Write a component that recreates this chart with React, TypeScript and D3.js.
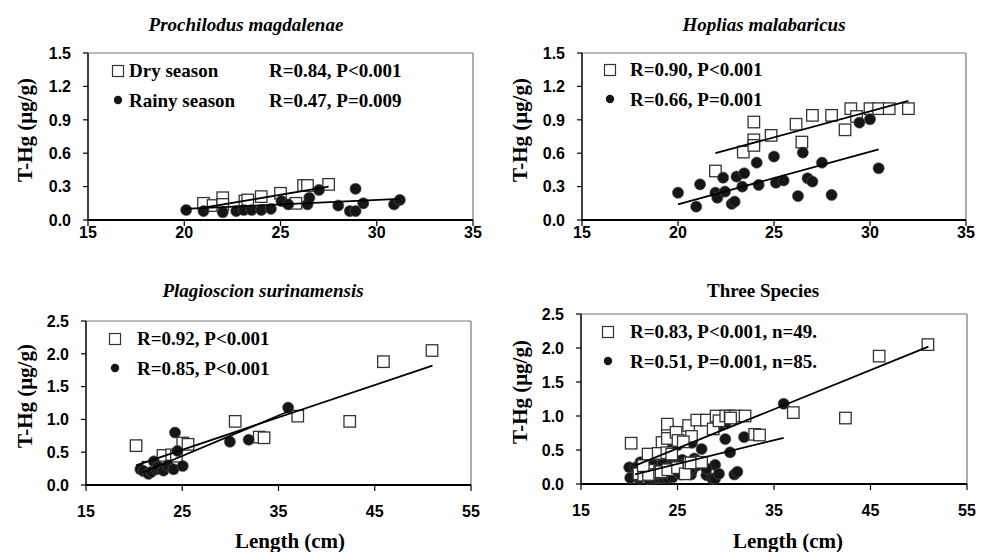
import * as d3 from "d3";

type Pt = [number, number];

// Prochilodus magdalenae
const prochDry: Pt[] = [
  [21.0, 0.15], [21.5, 0.13], [22.0, 0.2], [22.0, 0.14], [23.15, 0.17], [23.3, 0.18],
  [24.0, 0.21], [25.0, 0.24], [25.8, 0.15], [26.2, 0.31], [26.4, 0.31], [27.5, 0.32],
];
const prochRainy: Pt[] = [
  [20.1, 0.09], [21.0, 0.08], [22.0, 0.07], [22.7, 0.08], [23.1, 0.09], [23.5, 0.09],
  [24.0, 0.09], [24.5, 0.1], [25.05, 0.17], [25.4, 0.14], [26.4, 0.14], [26.5, 0.2],
  [27.0, 0.27], [28.0, 0.13], [28.6, 0.08], [28.9, 0.28], [28.9, 0.08], [29.3, 0.15],
  [30.9, 0.14], [31.2, 0.18],
];
const prochDryFit: Pt[] = [[21.0, 0.11], [27.5, 0.3]];
const prochRainyFit: Pt[] = [[20.0, 0.1], [31.2, 0.19]];

// Hoplias malabaricus
const hopDry: Pt[] = [
  [21.95, 0.44], [23.4, 0.61], [23.95, 0.72], [23.95, 0.67], [23.95, 0.88], [24.85, 0.76],
  [26.15, 0.86], [26.45, 0.7], [27.0, 0.94], [28.0, 0.94], [28.7, 0.81], [29.0, 1.0],
  [29.3, 0.93], [30.0, 1.0], [30.45, 1.0], [31.0, 1.0], [32.0, 1.0],
];
const hopRainy: Pt[] = [
  [20.0, 0.245], [20.95, 0.12], [21.15, 0.32], [21.95, 0.245], [22.05, 0.2], [22.35, 0.38],
  [22.45, 0.255], [22.8, 0.145], [22.95, 0.165], [23.05, 0.39], [23.35, 0.3], [23.45, 0.42],
  [24.1, 0.515], [24.2, 0.315], [25.0, 0.57], [25.1, 0.335], [25.5, 0.355], [26.25, 0.215],
  [26.5, 0.605], [26.75, 0.375], [27.0, 0.345], [27.5, 0.515], [28.0, 0.225], [29.45, 0.875],
  [30.0, 0.905], [30.45, 0.465],
];
const hopDryFit: Pt[] = [[21.95, 0.6], [32.0, 1.07]];
const hopRainyFit: Pt[] = [[20.0, 0.14], [30.45, 0.635]];

// Plagioscion surinamensis
const plagDry: Pt[] = [
  [20.2, 0.6], [21.45, 0.27], [23.0, 0.45], [23.9, 0.46], [24.4, 0.44], [25.05, 0.64],
  [25.6, 0.62], [30.5, 0.97], [33.0, 0.73], [33.5, 0.72], [37.0, 1.05], [42.4, 0.97],
  [45.9, 1.88], [50.95, 2.05],
];
const plagRainy: Pt[] = [
  [20.65, 0.24], [21.0, 0.21], [21.5, 0.17], [21.8, 0.2], [22.05, 0.36], [22.35, 0.24],
  [22.5, 0.28], [23.05, 0.22], [23.5, 0.3], [24.1, 0.24], [24.25, 0.8], [24.5, 0.52],
  [25.05, 0.29], [29.95, 0.66], [31.9, 0.69], [36.0, 1.18],
];
const plagDryFit: Pt[] = [[20.2, 0.3], [51.0, 1.82]];
const plagRainyFit: Pt[] = [[20.9, 0.19], [36.0, 1.12]];

// Three species pooled
const allDry: Pt[] = [...prochDry, ...hopDry, ...plagDry];
const allRainy: Pt[] = [...prochRainy, ...hopRainy, ...plagRainy];
const allDryFit: Pt[] = [[20.6, 0.27], [51.0, 2.02]];
const allRainyFit: Pt[] = [[20.6, 0.14], [36.0, 0.68]];

const ticksSmallX = [15, 20, 25, 30, 35];
const ticksSmallY = [0, 0.3, 0.6, 0.9, 1.2, 1.5];
const ticksWideX = [15, 25, 35, 45, 55];
const ticksWideY = [0, 0.5, 1.0, 1.5, 2.0, 2.5];

const SERIF = "'Liberation Serif', 'Times New Roman', serif";
const SANS = "'Liberation Sans', Arial, sans-serif";

type PanelProps = {
  box: { l: number; r: number; t: number; b: number };
  xTicks: number[];
  yTicks: number[];
  title: string;
  italic: boolean;
  titleX: number;
  titleY: number;
  yTitleX: number;
  yTitleY: number;
  xTitle?: { x: number; y: number };
  xLabelDy: number;
  dry: Pt[];
  rainy: Pt[];
  dryFit: Pt[];
  rainyFit: Pt[];
  legend: { mx: number; tx: number; rx?: number; y1: number; y2: number; a: string[]; b: string[] };
  squaresOnTop: boolean;
};

function Panel(p: PanelProps) {
  const { box } = p;
  const x = d3.scaleLinear().domain(d3.extent(p.xTicks) as Pt).range([box.l, box.r]);
  const y = d3.scaleLinear().domain(d3.extent(p.yTicks) as Pt).range([box.b, box.t]);
  const line = d3.line<Pt>().x(d => x(d[0])).y(d => y(d[1]));
  const fmtY = d3.format(".1f");
  const s = 11.5;

  const squares = (
    <g>
      {p.dry.map((d, i) => (
        <rect key={i} x={x(d[0]) - s / 2} y={y(d[1]) - s / 2} width={s} height={s}
          fill="#fff" stroke="#333" strokeWidth={1.3} />
      ))}
    </g>
  );
  const dots = (
    <g>
      {p.rainy.map((d, i) => (
        <circle key={i} cx={x(d[0])} cy={y(d[1])} r={5.6} fill="#161616" stroke="#555" strokeWidth={0.6} />
      ))}
    </g>
  );
  const lg = p.legend;

  return (
    <g>
      <text x={p.titleX} y={p.titleY} textAnchor="middle" fontFamily={SERIF} fontWeight="bold"
        fontStyle={p.italic ? "italic" : "normal"} fontSize={19}>{p.title}</text>
      <text transform={`translate(${p.yTitleX},${p.yTitleY}) rotate(-90)`} textAnchor="middle"
        fontFamily={SERIF} fontWeight="bold" fontSize={21} dy="0.35em">T-Hg (μg/g)</text>
      {p.xTitle && (
        <text x={p.xTitle.x} y={p.xTitle.y} textAnchor="middle" fontFamily={SERIF} fontWeight="bold"
          fontSize={21}>Length (cm)</text>
      )}
      {/* frame */}
      <line x1={box.l} x2={box.r} y1={box.t} y2={box.t} stroke="#777" strokeWidth={1.2} />
      <line x1={box.r} x2={box.r} y1={box.t} y2={box.b} stroke="#777" strokeWidth={1.2} />
      {/* y axis */}
      {p.yTicks.map(t => (
        <g key={t}>
          <line x1={box.l - 5} x2={box.l} y1={y(t)} y2={y(t)} stroke="#000" strokeWidth={1.2} />
          <text x={box.l - 17} y={y(t)} dy="0.36em" textAnchor="end" fontFamily={SANS}
            fontWeight="bold" fontSize={16}>{fmtY(t)}</text>
        </g>
      ))}
      {p.xTicks.map(t => (
        <g key={t}>
          <line x1={x(t)} x2={x(t)} y1={box.b} y2={box.b + 6} stroke="#000" strokeWidth={1.2} />
          <text x={x(t)} y={box.b + p.xLabelDy} textAnchor="middle" fontFamily={SANS}
            fontWeight="bold" fontSize={16}>{t}</text>
        </g>
      ))}
      <line x1={box.l} x2={box.l} y1={box.t} y2={box.b} stroke="#000" strokeWidth={1.5} />
      <line x1={box.l} x2={box.r} y1={box.b} y2={box.b} stroke="#000" strokeWidth={2} />

      {p.squaresOnTop ? <>{dots}{squares}</> : <>{squares}{dots}</>}
      <path d={line(p.dryFit) ?? ""} fill="none" stroke="#000" strokeWidth={1.8} />
      <path d={line(p.rainyFit) ?? ""} fill="none" stroke="#000" strokeWidth={1.8} />

      {/* legend */}
      <rect x={lg.mx - 5.5} y={lg.y1 - 11.5} width={11} height={11} fill="#fff" stroke="#333" strokeWidth={1.2} />
      <circle cx={lg.mx} cy={lg.y2 - 7} r={4.2} fill="#161616" />
      <g fontFamily={SERIF} fontWeight="bold" fontSize={19}>
        <text x={lg.tx} y={lg.y1}>{lg.a[0]}</text>
        <text x={lg.tx} y={lg.y2}>{lg.b[0]}</text>
        {lg.rx !== undefined && <text x={lg.rx} y={lg.y1}>{lg.a[1]}</text>}
        {lg.rx !== undefined && <text x={lg.rx} y={lg.y2}>{lg.b[1]}</text>}
      </g>
    </g>
  );
}

export default function App() {
  return (
    <svg width={990} height={552} style={{ position: "absolute", left: 0, top: 0, background: "#fff" }}>
      <Panel
        box={{ l: 88, r: 473, t: 53, b: 220 }}
        xTicks={ticksSmallX} yTicks={ticksSmallY}
        title="Prochilodus magdalenae" italic titleX={246} titleY={31}
        yTitleX={25} yTitleY={130} xLabelDy={18}
        dry={prochDry} rainy={prochRainy} dryFit={prochDryFit} rainyFit={prochRainyFit}
        legend={{ mx: 118, tx: 129, rx: 269, y1: 77, y2: 107,
          a: ["Dry season", "R=0.84, P<0.001"], b: ["Rainy season", "R=0.47, P=0.009"] }}
        squaresOnTop={false}
      />
      <Panel
        box={{ l: 582, r: 966, t: 53, b: 220 }}
        xTicks={ticksSmallX} yTicks={ticksSmallY}
        title="Hoplias malabaricus" italic titleX={764} titleY={31}
        yTitleX={520} yTitleY={130} xLabelDy={18}
        dry={hopDry} rainy={hopRainy} dryFit={hopDryFit} rainyFit={hopRainyFit}
        legend={{ mx: 610, tx: 630, y1: 76, y2: 106,
          a: ["R=0.90, P<0.001"], b: ["R=0.66, P=0.001"] }}
        squaresOnTop={false}
      />
      <Panel
        box={{ l: 86, r: 471, t: 321, b: 485 }}
        xTicks={ticksWideX} yTicks={ticksWideY}
        title="Plagioscion surinamensis" italic titleX={263} titleY={297}
        yTitleX={25} yTitleY={396} xLabelDy={32}
        xTitle={{ x: 290, y: 548 }}
        dry={plagDry} rainy={plagRainy} dryFit={plagDryFit} rainyFit={plagRainyFit}
        legend={{ mx: 115, tx: 137, y1: 345, y2: 375,
          a: ["R=0.92, P<0.001"], b: ["R=0.85, P<0.001"] }}
        squaresOnTop={false}
      />
      <Panel
        box={{ l: 581, r: 967, t: 314, b: 484 }}
        xTicks={ticksWideX} yTicks={ticksWideY}
        title="Three Species" italic={false} titleX={763} titleY={297}
        yTitleX={520} yTitleY={392} xLabelDy={32}
        xTitle={{ x: 788, y: 548 }}
        dry={allDry} rainy={allRainy} dryFit={allDryFit} rainyFit={allRainyFit}
        legend={{ mx: 608, tx: 630, y1: 338, y2: 368,
          a: ["R=0.83, P<0.001, n=49."], b: ["R=0.51, P=0.001, n=85."] }}
        squaresOnTop={true}
      />
    </svg>
  );
}
